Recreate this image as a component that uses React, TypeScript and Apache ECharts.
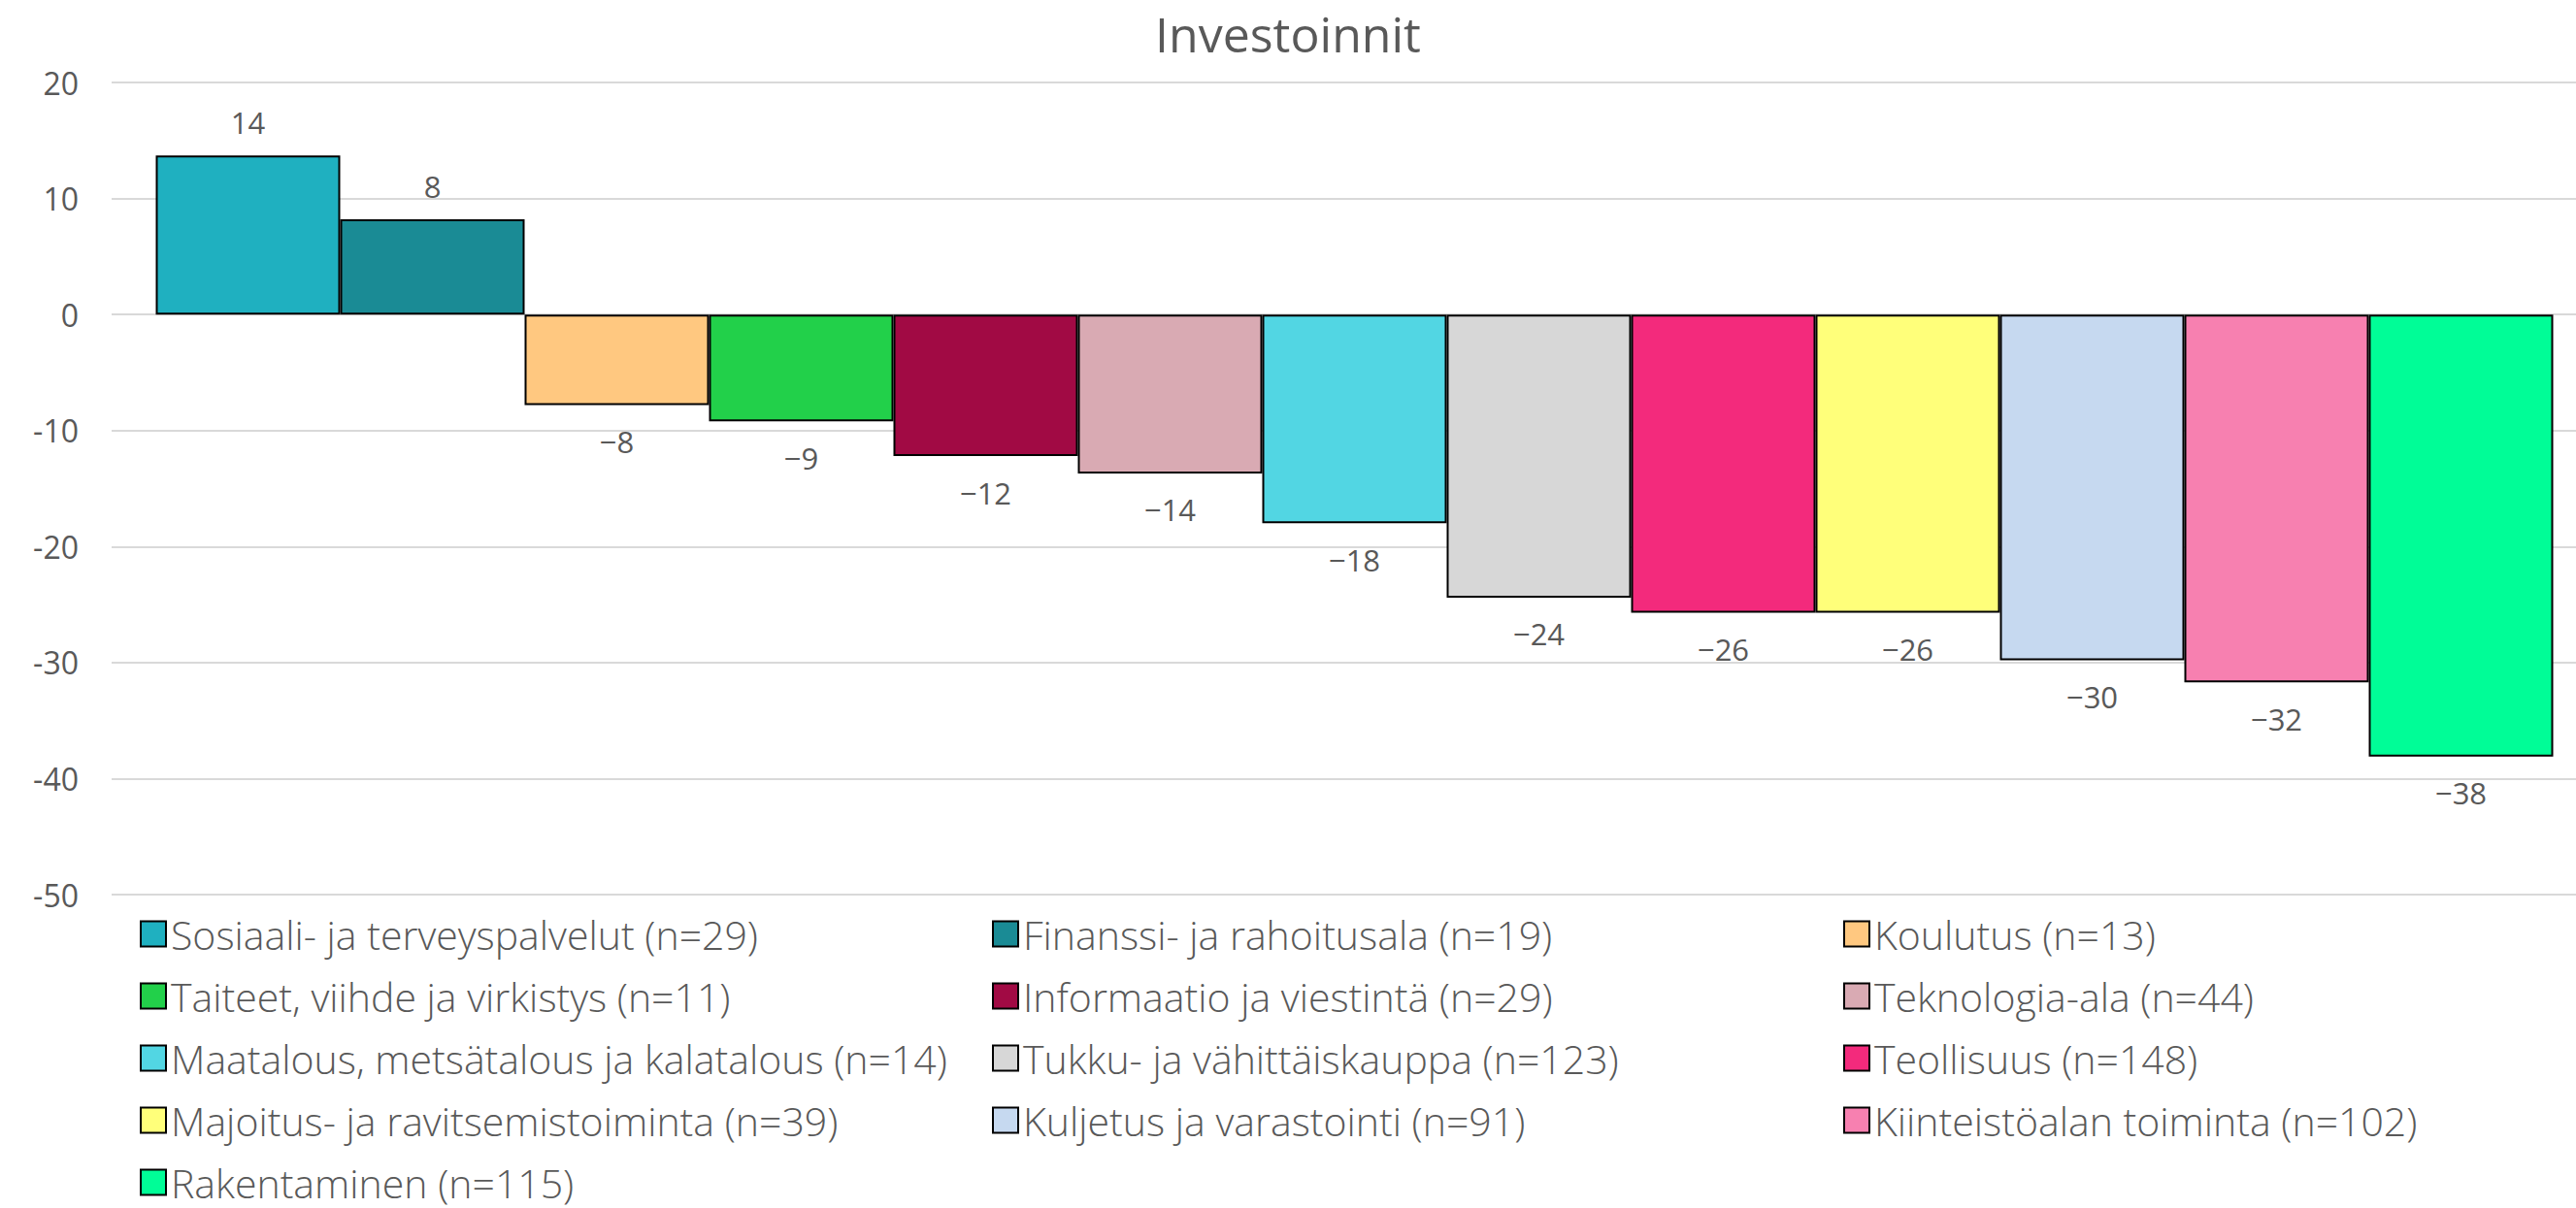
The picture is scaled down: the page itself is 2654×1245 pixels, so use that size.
import React, { useEffect, useRef } from "react";
import * as echarts from "echarts";

const categories = [
  "Sosiaali- ja terveyspalvelut (n=29)",
  "Finanssi- ja rahoitusala (n=19)",
  "Koulutus (n=13)",
  "Taiteet, viihde ja virkistys (n=11)",
  "Informaatio ja viestintä (n=29)",
  "Teknologia-ala (n=44)",
  "Maatalous, metsätalous ja kalatalous (n=14)",
  "Tukku- ja vähittäiskauppa (n=123)",
  "Teollisuus (n=148)",
  "Majoitus- ja ravitsemistoiminta (n=39)",
  "Kuljetus ja varastointi (n=91)",
  "Kiinteistöalan toiminta (n=102)",
  "Rakentaminen (n=115)",
];

const values = [13.7, 8.2, -7.8, -9.2, -12.2, -13.7, -18.0, -24.4, -25.7, -25.7, -29.8, -31.7, -38.1];

const colors = [
  "#1fb0c0",
  "#1a8b95",
  "#ffc880",
  "#22d04a",
  "#a10a44",
  "#d9aab3",
  "#52d6e3",
  "#d7d7d7",
  "#f32a7c",
  "#ffff7a",
  "#c6d9f0",
  "#f780b0",
  "#00fd97",
];

const groupLabel = ["Investoinnit"];
const yTicks = { min: -50, max: 20, interval: 10 };

export default function App() {
  const ref = useRef<HTMLDivElement>(null);
  useEffect(() => {
    if (!ref.current) return;
    const chart = echarts.init(ref.current, undefined, { renderer: "svg" });
    const textColor = "#595959";
    const series = categories.map((name, i) => ({
      name,
      type: "bar",
      xAxisIndex: 0,
      yAxisIndex: 0,
      data: [values[i]],
      barGap: 0,
      barWidth: 190,
      itemStyle: { color: colors[i], borderColor: "#000", borderWidth: 2 },
      label: {
        show: true,
        position: values[i] >= 0 ? "top" : "bottom",
        distance: values[i] >= 0 ? 19 : 22,
        formatter: (p: any) => String(Math.round(p.value)).replace("-", "\u2212"),
        color: textColor,
        fontSize: 31,
        fontFamily: "Open Sans",
      },
    }));
    const colX = [144, 1022, 1899];
    const legends = categories.map((name, i) => ({
      left: colX[i % 3],
      top: 963 + 64 * Math.floor(i / 3) - 21,
      padding: 0,
      itemWidth: 26,
      itemHeight: 26,
      itemGap: 0,
      itemTextGap: 13,
      icon: "rect",
      data: [name],
      textStyle: { color: textColor, fontSize: 41, lineHeight: 38, fontFamily: "Open Sans", fontWeight: 300 },
      selectedMode: false,
    }));
    const yBase = {
      type: "value",
      min: yTicks.min,
      max: yTicks.max,
      interval: yTicks.interval,
      axisLine: { show: false },
      axisTick: { show: false },
    };
    chart.setOption({
      animation: false,
      backgroundColor: "#ffffff",
      title: {
        text: "Investoinnit",
        left: "center",
        top: 5,
        textStyle: { color: textColor, fontSize: 50, lineHeight: 50, fontWeight: "normal", fontFamily: "Open Sans" },
      },
      grid: [
        { left: 137, top: 85, height: 837, right: 0, containLabel: false },
        { left: 115, top: 85, height: 837, right: 0, containLabel: false },
      ],
      xAxis: [
        {
          type: "category",
          gridIndex: 0,
          data: groupLabel,
          axisLine: { show: false },
          axisTick: { show: false },
          axisLabel: { show: false },
        },
        {
          type: "category",
          gridIndex: 1,
          data: groupLabel,
          axisLine: { show: false },
          axisTick: { show: false },
          axisLabel: { show: false },
        },
      ],
      yAxis: [
        {
          ...yBase,
          gridIndex: 0,
          axisLabel: { show: false },
          splitLine: { show: false },
        },
        {
          ...yBase,
          gridIndex: 1,
          axisLabel: { color: textColor, fontSize: 32, margin: 34, fontFamily: "Open Sans" },
          splitLine: { lineStyle: { color: "#d9d9d9", width: 2 } },
        },
      ],
      legend: legends,
      series,
    } as any);
    return () => chart.dispose();
  }, []);
  return (
    <div
      ref={ref}
      style={{ position: "fixed", left: 0, top: 0, width: 2654, height: 1245 }}
    />
  );
}
